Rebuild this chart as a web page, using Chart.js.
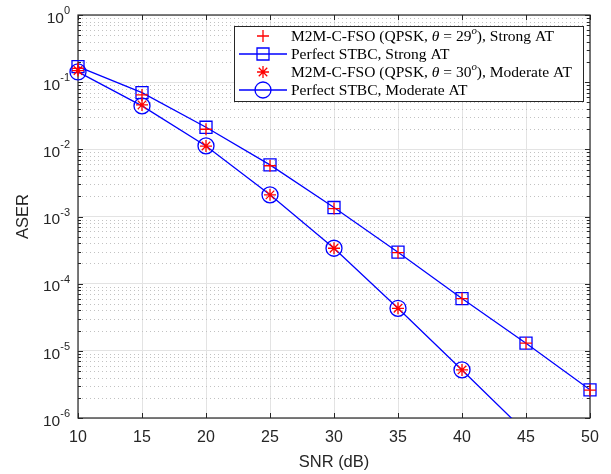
<!DOCTYPE html>
<html>
<head>
<meta charset="utf-8">
<script src="https://cdn.jsdelivr.net/npm/chart.js@4/dist/chart.umd.min.js"></script>
<style>
  html, body { margin: 0; padding: 0; background: #fff; }
</style>
</head>
<body>
<canvas id="chart" width="611" height="474"></canvas>
<script>
// SNR values (dB) and ASER
const snr = [10, 15, 20, 25, 30, 35, 40, 45, 50];
const simStrong = [0.160, 0.0645, 0.0199, 0.0057, 0.00131, 2.9e-4, 6.0e-5, 1.3e-5, 2.6e-6];
const stbcStrong = [0.170, 0.0698, 0.0213, 0.00586, 0.00136, 2.94e-4, 6.0e-5, 1.3e-5, 2.63e-6];
const simModerate = [0.149, 0.0459, 0.0112, 0.0021, 3.37e-4, 4.3e-5, 5.2e-6, null, null];
const stbcModerate = [0.142, 0.0443, 0.01124, 0.0021, 3.37e-4, 4.3e-5, 5.2e-6, 6.1e-7, null];
const xTicks = [10, 15, 20, 25, 30, 35, 40, 45, 50];
const yExponents = [0, -1, -2, -3, -4, -5, -6];

const RED = '#ff0000';
const BLUE = '#0000ff';
const AXIS = '#262626';
const SANS = '"Liberation Sans", Arial, sans-serif';
const SERIF = '"Liberation Serif", "Times New Roman", serif';

const toPoints = arr => snr.map((x, i) => ({ x: x, y: arr[i] }));
const clipBox = { left: 14, right: 14, top: 14, bottom: 0 };

// legend rows: text segments (italic / superscript parts)
const legendRows = [
    { marker: 'cross', line: false, segs: [
        { t: 'M2M-C-FSO (QPSK, ' }, { t: 'θ', it: true }, { t: ' = 29' }, { t: 'o', it: true, sup: true }, { t: '), Strong AT' }] },
    { marker: 'rect', line: true, segs: [{ t: 'Perfect STBC, Strong AT' }] },
    { marker: 'star', line: false, segs: [
        { t: 'M2M-C-FSO (QPSK, ' }, { t: 'θ', it: true }, { t: ' = 30' }, { t: 'o', it: true, sup: true }, { t: '), Moderate AT' }] },
    { marker: 'circle', line: true, segs: [{ t: 'Perfect STBC, Moderate AT' }] }
];

function drawMarker(ctx, type, x, y) {
    ctx.save();
    ctx.lineWidth = 1.3;
    ctx.beginPath();
    if (type === 'cross') {
        ctx.strokeStyle = RED;
        ctx.moveTo(x - 6, y); ctx.lineTo(x + 6, y);
        ctx.moveTo(x, y - 6); ctx.lineTo(x, y + 6);
    } else if (type === 'star') {
        ctx.strokeStyle = RED;
        ctx.moveTo(x - 6, y); ctx.lineTo(x + 6, y);
        ctx.moveTo(x, y - 6); ctx.lineTo(x, y + 6);
        const d = 6 * Math.SQRT1_2;
        ctx.moveTo(x - d, y - d); ctx.lineTo(x + d, y + d);
        ctx.moveTo(x - d, y + d); ctx.lineTo(x + d, y - d);
    } else if (type === 'rect') {
        ctx.strokeStyle = BLUE;
        ctx.rect(x - 6, y - 6, 12, 12);
    } else {
        ctx.strokeStyle = BLUE;
        ctx.arc(x, y, 8, 0, Math.PI * 2);
    }
    ctx.stroke();
    ctx.restore();
}

function drawRich(ctx, segs, x, y, size) {
    let cx = x;
    segs.forEach(s => {
        const fs = s.sup ? size * 0.7 : size;
        ctx.font = (s.it ? 'italic ' : '') + fs + 'px ' + SERIF;
        ctx.fillText(s.t, cx, s.sup ? y - size * 0.35 : y);
        cx += ctx.measureText(s.t).width;
    });
}

const matlabAxes = {
    id: 'matlabAxes',
    beforeDatasetsDraw(chart) {
        const { ctx, chartArea: a, scales: { x, y } } = chart;
        ctx.save();
        // minor dotted grid
        ctx.strokeStyle = '#c2c2c2';
        ctx.lineWidth = 1;
        ctx.setLineDash([1, 3]);
        for (let e = -6; e < 0; e++) {
            for (let k = 2; k <= 9; k++) {
                const py = Math.round(y.getPixelForValue(k * Math.pow(10, e))) + 0.5;
                ctx.beginPath();
                ctx.moveTo(a.left, py);
                ctx.lineTo(a.right, py);
                ctx.stroke();
            }
        }
        ctx.setLineDash([]);
        // frame
        ctx.strokeStyle = AXIS;
        ctx.lineWidth = 1.2;
        ctx.strokeRect(a.left, a.top, a.right - a.left, a.bottom - a.top);
        // tick marks
        ctx.lineWidth = 1;
        ctx.beginPath();
        xTicks.forEach(v => {
            const px = Math.round(x.getPixelForValue(v)) + 0.5;
            ctx.moveTo(px, a.bottom); ctx.lineTo(px, a.bottom - 5);
            ctx.moveTo(px, a.top); ctx.lineTo(px, a.top + 5);
        });
        for (let e = -6; e <= 0; e++) {
            for (let k = 1; k <= 9; k++) {
                if (e === 0 && k > 1) break;
                const py = Math.round(y.getPixelForValue(k * Math.pow(10, e))) + 0.5;
                const len = k === 1 ? 5 : 3;
                ctx.moveTo(a.left, py); ctx.lineTo(a.left + len, py);
                ctx.moveTo(a.right, py); ctx.lineTo(a.right - len, py);
            }
        }
        ctx.stroke();
        ctx.restore();
    },
    afterDraw(chart) {
        const { ctx, chartArea: a, scales: { x, y } } = chart;
        ctx.save();
        ctx.fillStyle = AXIS;
        // x tick labels
        ctx.font = '16px ' + SANS;
        ctx.textAlign = 'center';
        ctx.textBaseline = 'middle';
        xTicks.forEach(v => ctx.fillText(String(v), x.getPixelForValue(v), 438));
        // y tick labels: 10^e
        ctx.textAlign = 'left';
        yExponents.forEach(e => {
            const py = y.getPixelForValue(Math.pow(10, e));
            const ex = e === 0 ? '0' : '-' + (-e);
            ctx.font = '11px ' + SANS;
            const we = ctx.measureText(ex).width;
            ctx.font = '15.5px ' + SANS;
            const wb = ctx.measureText('10').width;
            const right = 70;
            ctx.fillText('10', right - we - wb, py + 3.5);
            ctx.font = '11px ' + SANS;
            ctx.fillText(ex, right - we, py - 4);
        });
        // axis titles
        ctx.font = '16.5px ' + SANS;
        ctx.textAlign = 'center';
        ctx.fillText('SNR (dB)', (a.left + a.right) / 2, 462);
        ctx.save();
        ctx.translate(23, (a.top + a.bottom) / 2);
        ctx.rotate(-Math.PI / 2);
        ctx.fillText('ASER', 0, 0);
        ctx.restore();
        // legend
        const lx = 234, ly = 26, lw = 349, lh = 75;
        ctx.fillStyle = '#fff';
        ctx.fillRect(lx, ly, lw, lh);
        ctx.strokeStyle = AXIS;
        ctx.lineWidth = 1;
        ctx.strokeRect(lx + 0.5, ly + 0.5, lw, lh);
        ctx.textAlign = 'left';
        ctx.textBaseline = 'middle';
        legendRows.forEach((row, i) => {
            const ry = 36 + i * 18;
            if (row.line) {
                ctx.strokeStyle = BLUE;
                ctx.lineWidth = 1.3;
                ctx.beginPath();
                ctx.moveTo(239, ry); ctx.lineTo(287, ry);
                ctx.stroke();
            }
            drawMarker(ctx, row.marker, 263, ry);
            ctx.fillStyle = '#000';
            drawRich(ctx, row.segs, 291, ry + 1, 15.5);
        });
        ctx.restore();
    }
};

new Chart(document.getElementById('chart'), {
    type: 'line',
    data: {
        datasets: [
            {
                label: 'M2M-C-FSO (QPSK, θ = 29°), Strong AT',
                data: toPoints(simStrong),
                showLine: false,
                borderColor: RED,
                backgroundColor: 'rgba(0,0,0,0)',
                pointStyle: 'cross',
                pointRadius: 6,
                pointBorderWidth: 1.3,
                clip: clipBox,
                order: 0
            },
            {
                label: 'Perfect STBC, Strong AT',
                data: toPoints(stbcStrong),
                borderColor: BLUE,
                borderWidth: 1.3,
                backgroundColor: 'rgba(0,0,0,0)',
                pointStyle: 'rect',
                pointRadius: 8.5,
                pointBorderWidth: 1.3,
                tension: 0,
                clip: clipBox,
                order: 1
            },
            {
                label: 'M2M-C-FSO (QPSK, θ = 30°), Moderate AT',
                data: toPoints(simModerate),
                showLine: false,
                borderColor: RED,
                backgroundColor: 'rgba(0,0,0,0)',
                pointStyle: 'star',
                pointRadius: 6,
                pointBorderWidth: 1.3,
                clip: clipBox,
                order: 0
            },
            {
                label: 'Perfect STBC, Moderate AT',
                data: toPoints(stbcModerate),
                borderColor: BLUE,
                borderWidth: 1.3,
                backgroundColor: 'rgba(0,0,0,0)',
                pointStyle: 'circle',
                pointRadius: 8,
                pointBorderWidth: 1.3,
                tension: 0,
                clip: clipBox,
                order: 1
            }
        ]
    },
    options: {
        responsive: false,
        animation: false,
        layout: { padding: { left: 78, right: 21, top: 15, bottom: 56 } },
        plugins: { legend: { display: false }, tooltip: { enabled: false } },
        scales: {
            x: {
                type: 'linear',
                min: 10,
                max: 50,
                ticks: { display: false, stepSize: 5 },
                grid: { color: '#e3e3e3', drawTicks: false },
                border: { display: false },
                afterFit: s => { s.height = 0; }
            },
            y: {
                type: 'logarithmic',
                min: 1e-6,
                max: 1,
                ticks: { display: false },
                grid: { color: '#e3e3e3', drawTicks: false },
                border: { display: false },
                afterBuildTicks: s => { s.ticks = yExponents.map(e => ({ value: Math.pow(10, e) })); },
                afterFit: s => { s.width = 0; }
            }
        }
    },
    plugins: [matlabAxes]
});
</script>
</body>
</html>
